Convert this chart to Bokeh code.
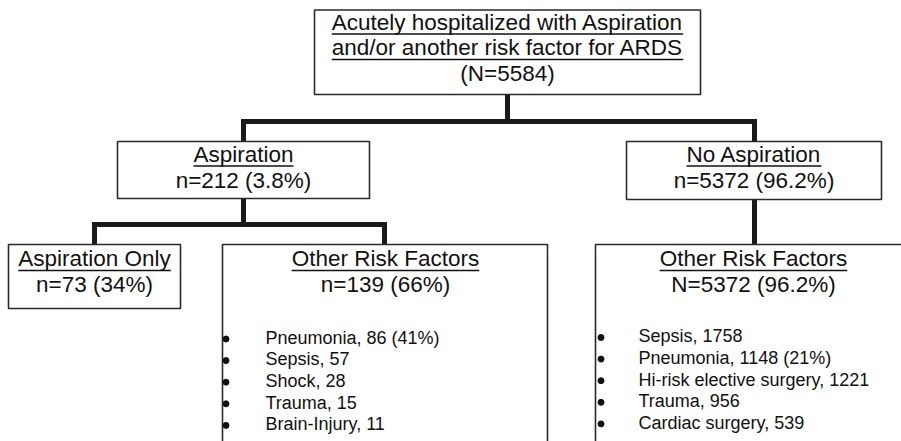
from bokeh.plotting import figure
from bokeh.models import Range1d, ColumnDataSource
from bokeh.core.properties import value
from bokeh.embed import file_html
from bokeh.resources import INLINE

# ---------------- data ----------------
top_lines = ["Acutely hospitalized with Aspiration", "and/or another risk factor for ARDS"]
top_count = "(N=5584)"

level2_labels = ["Aspiration", "No Aspiration"]
level2_counts = ["n=212 (3.8%)", "n=5372 (96.2%)"]

level3_labels = ["Aspiration Only", "Other Risk Factors", "Other Risk Factors"]
level3_counts = ["n=73 (34%)", "n=139 (66%)", "N=5372 (96.2%)"]

left_factors = ["Pneumonia", "Sepsis", "Shock", "Trauma", "Brain-Injury"]
left_counts = [86, 57, 28, 15, 11]
left_pcts = ["(41%)", "", "", "", ""]

right_factors = ["Sepsis", "Pneumonia", "Hi-risk elective surgery", "Trauma", "Cardiac surgery"]
right_counts = [1758, 1148, 1221, 956, 539]
right_pcts = ["", "(21%)", "", "", ""]

# ---------------- layout (pixel-like coordinates) ----------------
FONT = "Liberation Sans"
HEAD = 22.5
ITEM = 18
TXT = "#111111"
LINE = "#1a1a1a"
KOFF = 0.37  # renderer baseline shift, fraction of font size

# Arial / Liberation Sans advance widths (per 1000 em)
W = {' ': 278, '(': 333, ')': 333, '%': 889, ',': 278, '-': 333, '.': 278, '/': 278, '=': 584,
     'A': 667, 'B': 667, 'C': 722, 'D': 722, 'E': 667, 'F': 611, 'G': 778, 'H': 722, 'I': 278,
     'J': 500, 'K': 667, 'L': 556, 'M': 833, 'N': 722, 'O': 778, 'P': 667, 'Q': 778, 'R': 722,
     'S': 667, 'T': 611, 'U': 722, 'V': 667, 'W': 944, 'X': 667, 'Y': 667, 'Z': 611,
     'a': 556, 'b': 556, 'c': 500, 'd': 556, 'e': 556, 'f': 278, 'g': 556, 'h': 556, 'i': 222,
     'j': 222, 'k': 500, 'l': 222, 'm': 833, 'n': 556, 'o': 556, 'p': 556, 'q': 556, 'r': 333,
     's': 500, 't': 278, 'u': 556, 'v': 500, 'w': 722, 'x': 500, 'y': 500, 'z': 500}


def text_width(s, size):
    return sum(W.get(ch, 556) for ch in s) * size / 1000.0


p = figure(width=901, height=441, x_range=Range1d(0, 901), y_range=Range1d(441, 0),
           output_backend="svg", toolbar_location=None, x_axis_type=None, y_axis_type=None,
           min_border=0, min_border_left=0, min_border_right=0, min_border_top=0,
           min_border_bottom=0)
p.outline_line_color = None
p.grid.visible = False
p.background_fill_color = "white"
p.border_fill_color = "white"

# connectors
conn_xs = [[507, 507], [243, 243, 754, 754], [243, 243], [94, 94, 384, 384], [754, 754]]
conn_ys = [[94, 121], [141, 121, 121, 141], [198, 224], [244, 224, 224, 244], [199, 244]]
p.multi_line(xs=conn_xs, ys=conn_ys, line_width=5, line_color=LINE, line_join="miter",
             line_cap="butt")

# boxes
boxes = dict(left=[314, 117, 626, 8, 222, 595], right=[700, 369, 881, 180, 547, 913],
             top=[9.5, 141, 141, 244, 244, 244], bottom=[94, 198, 199, 308, 470, 470])
p.quad(source=ColumnDataSource(boxes), left="left", right="right", top="top", bottom="bottom",
       fill_color="white", line_color="#2a2a2a", line_width=1.6)

# header texts (centred); y values are the wanted baselines
head_x, head_y, head_t, under = [], [], [], []
for i, s in enumerate(top_lines):
    head_x.append(507); head_y.append(30 + 25.5 * i); head_t.append(s); under.append(True)
head_x.append(507); head_y.append(81); head_t.append(top_count); under.append(False)

l2_cx = [243, 753.5]
for cx, lab, cnt in zip(l2_cx, level2_labels, level2_counts):
    head_x += [cx, cx]; head_y += [162, 188]; head_t += [lab, cnt]; under += [True, False]

l3_cx = [94, 385, 753]
for cx, lab, cnt in zip(l3_cx, level3_labels, level3_counts):
    head_x += [cx, cx]; head_y += [266.5, 292]; head_t += [lab, cnt]; under += [True, False]

p.text(x=head_x, y=[y - KOFF * HEAD for y in head_y], text=head_t, text_font=value(FONT),
       text_font_size=f"{HEAD}px", text_align="center", text_baseline="alphabetic",
       text_color=TXT)

# underlines
ux0, ux1, uy = [], [], []
for x, y, t, u in zip(head_x, head_y, head_t, under):
    if u:
        w = text_width(t, HEAD)
        ux0.append(x - w / 2); ux1.append(x + w / 2); uy.append(y + 3.5)
p.segment(x0=ux0, y0=uy, x1=ux1, y1=uy, line_color=TXT, line_width=1.4)


# bullet lists
def item_text(name, cnt, pct):
    s = f"{name}, {cnt}"
    return s + (f" {pct}" if pct else "")


STEP = 21.6
for bx, tx, y0, names, cnts, pcts in [(225.5, 265, 344, left_factors, left_counts, left_pcts),
                                      (600.5, 638, 342.5, right_factors, right_counts, right_pcts)]:
    ys = [y0 + STEP * i for i in range(len(names))]
    texts = [item_text(n, c, q) for n, c, q in zip(names, cnts, pcts)]
    p.text(x=[tx] * len(texts), y=[y - KOFF * ITEM for y in ys], text=texts,
           text_font=value(FONT), text_font_size=f"{ITEM}px", text_align="left",
           text_baseline="alphabetic", text_color=TXT)
    p.scatter(x=[bx] * len(ys), y=[y - 5.5 for y in ys], size=6, color=TXT)

open("out.html", "w").write(file_html(p, INLINE))
